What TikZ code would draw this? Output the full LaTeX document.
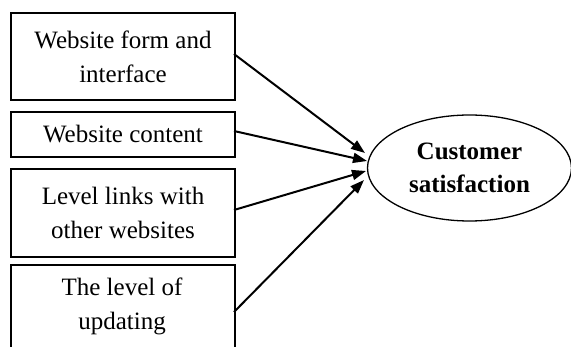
\documentclass[tikz,border=0pt]{standalone}
\usepackage{fontspec}
\setmainfont{Liberation Serif}
\usetikzlibrary{arrows.meta,shapes.geometric}
\begin{document}
\begin{tikzpicture}[x=1pt,y=-1pt,
  boxline/.style={draw=black,line width=2pt},
  boxtext/.style={font=\fontsize{25}{34}\selectfont,align=center,inner sep=0pt},
  arr/.style={line width=2pt,-{Triangle[length=14pt,width=10pt]}},
  oval/.style={ellipse,draw=black,line width=1.3pt,minimum width=204pt,minimum height=106pt,inner sep=0pt,
     font=\fontsize{25}{33}\selectfont\bfseries,align=center}]
\useasboundingbox (0,0) rectangle (571,347);
\clip (0,0) rectangle (571,347);
\node[boxline,minimum width=224pt,minimum height=87pt,anchor=north west,inner sep=0pt] (b1) at (10,12) {};
\node[boxtext] (t1) at (b1.center) {Website form and\\interface};
\node[boxline,minimum width=224pt,minimum height=45pt,anchor=north west,inner sep=0pt] (b2) at (10,111) {};
\node[boxtext] (t2) at (b2.center) {Website content};
\node[boxline,minimum width=224pt,minimum height=88pt,anchor=north west,inner sep=0pt] (b3) at (10,168) {};
\node[boxtext] (t3) at (b3.center) {Level links with\\other websites};
\node[boxline,minimum width=224pt,minimum height=100pt,anchor=north west,inner sep=0pt] (b4) at (10,264) {};
\node[boxtext,anchor=north] (t4) at (122,278) {The level of\\updating};
\node[oval] (cs) at (469.5,168) {Customer\\satisfaction};
\coordinate (e1) at (234,54);
\coordinate (e2) at (234,131);
\coordinate (e3) at (234,210);
\coordinate (e4) at (234,312);
\coordinate (p1) at (365,153);
\coordinate (p2) at (367,161);
\coordinate (p3) at (366,171);
\coordinate (p4) at (364,180);
\draw[arr] (e1) -- (p1);
\draw[arr] (e2) -- (p2);
\draw[arr] (e3) -- (p3);
\draw[arr] (e4) -- (p4);
\end{tikzpicture}
\end{document}
